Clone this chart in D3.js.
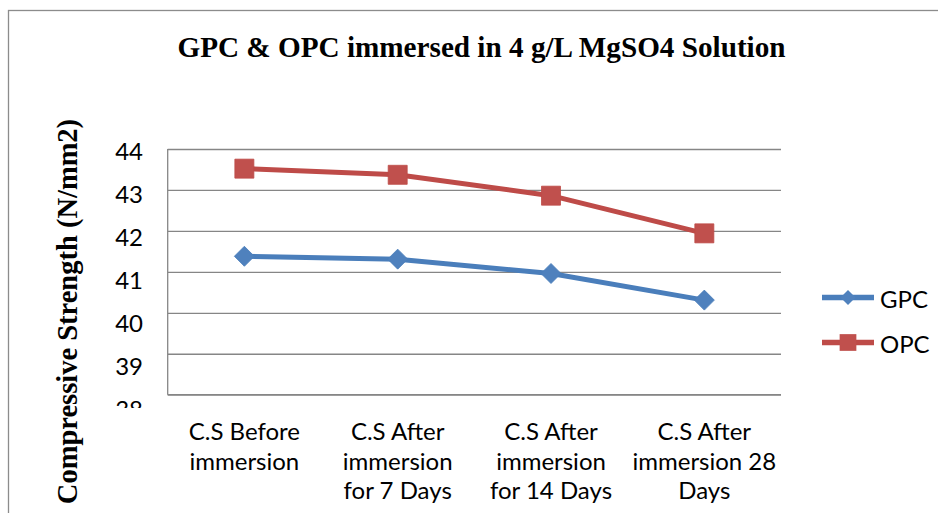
<!DOCTYPE html>
<html>
  <head>
   <meta charset="utf-8" />
   <title>GPC &amp; OPC</title>
   <style>
     body { margin: 0; background: white; }
     .title, .ylabel { font-family: "Liberation Serif", "Times New Roman", serif; font-weight: bold; }
     .tick-label, .cat, .legend text { font-family: Lato, "Liberation Sans", sans-serif; fill: #000; }
   </style>
  </head>
  <body>
<svg id="chart" width=938 height=513></svg>
  <script src="https://d3js.org/d3.v7.min.js"></script>
  <script>

    var categories = [
      "C.S Before\nimmersion",
      "C.S After\nimmersion\nfor 7 Days",
      "C.S After\nimmersion\nfor 14 Days",
      "C.S After\nimmersion 28\nDays"
    ];
    var gpcValues = [41.38, 41.31, 40.96, 40.31];
    var opcValues = [43.52, 43.37, 42.86, 41.94];
    var yTicks = [38, 39, 40, 41, 42, 43, 44];
    var seriesNames = ["GPC", "OPC"];

    var svg = d3.select("#chart");

    svg.append("rect")
      .attr("x", 8.5).attr("y", 10.5)
      .attr("width", 960).attr("height", 540)
      .attr("fill", "white")
      .attr("stroke", "#8c8c8c")
      .attr("stroke-width", 1.3);

    var plotLeft = 167.7, plotRight = 781, plotTop = 149, plotBottom = 394.7;

    var x = d3.scaleBand()
      .domain(categories)
      .range([plotLeft, plotRight]);

    var y = d3.scaleLinear()
      .domain([38, 44])
      .range([plotBottom, plotTop]);

    // tick labels sit on a slightly wider spacing than the gridlines
    var yLabel = d3.scaleLinear()
      .domain([39, 44])
      .range([366.3, 151.7]);

    // gridlines
    svg.append("g")
      .attr("transform", "translate(" + plotLeft + ",0)")
      .call(d3.axisLeft(y).tickValues(yTicks).tickSize(-(plotRight - plotLeft)).tickFormat(""))
      .call(function(g){
        g.select(".domain").remove();
        g.selectAll(".tick line").attr("stroke", "#868686").attr("stroke-width", 1.3);
      });

    // axis lines
    svg.append("line")
      .attr("x1", plotLeft).attr("x2", plotLeft)
      .attr("y1", plotTop).attr("y2", plotBottom)
      .attr("stroke", "#868686").attr("stroke-width", 1.3);
    svg.append("line")
      .attr("x1", plotLeft).attr("x2", plotRight)
      .attr("y1", plotBottom).attr("y2", plotBottom)
      .attr("stroke", "#868686").attr("stroke-width", 1.3);

    svg.append("clipPath").attr("id", "labelClip")
      .append("rect").attr("x", 0).attr("y", 0).attr("width", 160).attr("height", 408);

    svg.append("g")
      .attr("clip-path", "url(#labelClip)")
      .selectAll("text")
      .data(yTicks)
      .enter().append("text")
      .attr("class", "tick-label")
      .attr("x", 143)
      .attr("y", function(d){ return yLabel(d); })
      .attr("dy", "0.36em")
      .attr("text-anchor", "end")
      .attr("font-size", 24)
      .text(function(d){ return d; });

    // category labels
    var cats = svg.append("g").selectAll("text")
      .data(categories)
      .enter().append("text")
      .attr("class", "cat")
      .attr("text-anchor", "middle")
      .attr("font-size", 24)
      .attr("transform", function(d){
        return "translate(" + (x(d) + x.bandwidth() / 2) + ",440)";
      });
    cats.selectAll("tspan")
      .data(function(d){ return d.split("\n"); })
      .enter().append("tspan")
      .attr("x", 0)
      .attr("dy", function(d, i){ return i === 0 ? 0 : 29.5; })
      .text(function(d){ return d; });

    var colors = { GPC: "#4A7EBB", OPC: "#BE4B48" };
    var fills = { GPC: "#4F81BD", OPC: "#C0504D" };

    var line = d3.line()
      .x(function(d, i){ return x(categories[i]) + x.bandwidth() / 2; })
      .y(function(d){ return y(d); });

    var diamond = d3.symbol().type(d3.symbolSquare).size(200);
    var square = d3.symbol().type(d3.symbolSquare).size(361);

    [["GPC", gpcValues], ["OPC", opcValues]].forEach(function(s){
      var name = s[0], vals = s[1];
      svg.append("path")
        .attr("d", line(vals))
        .attr("fill", "none")
        .attr("stroke", colors[name])
        .attr("stroke-width", 5)
        .attr("stroke-linejoin", "round");

      svg.append("g").selectAll("path")
        .data(vals)
        .enter().append("path")
        .attr("d", name === "GPC" ? diamond : square)
        .attr("transform", function(d, i){
          var t = "translate(" + (x(categories[i]) + x.bandwidth() / 2) + "," + y(d) + ")";
          return name === "GPC" ? t + " rotate(45)" : t;
        })
        .attr("fill", fills[name])
        .attr("stroke", colors[name])
        .attr("stroke-width", 0.8);
    });

    // legend
    var legend = svg.append("g").attr("class", "legend");
    var legendY = { GPC: 297.5, OPC: 342.5 };
    seriesNames.forEach(function(name){
      var ly = legendY[name];
      legend.append("line")
        .attr("x1", 822).attr("x2", 874)
        .attr("y1", ly).attr("y2", ly)
        .attr("stroke", colors[name]).attr("stroke-width", 5.5);
      legend.append("path")
        .attr("d", name === "GPC" ? d3.symbol().type(d3.symbolSquare).size(112)() : d3.symbol().type(d3.symbolSquare).size(280)())
        .attr("transform", "translate(848," + ly + ")" + (name === "GPC" ? " rotate(45)" : ""))
        .attr("fill", fills[name]);
      legend.append("text")
        .attr("x", 880).attr("y", ly + 2)
        .attr("dy", "0.36em")
        .attr("font-size", 24)
        .text(name);
    });

    svg.append("text")
      .attr("class", "title")
      .attr("x", 481.5).attr("y", 57)
      .attr("text-anchor", "middle")
      .attr("font-size", 29.2)
      .text("GPC & OPC immersed in 4 g/L MgSO4 Solution");

    svg.append("text")
      .attr("class", "ylabel")
      .attr("transform", "translate(77,311.5) rotate(-90)")
      .attr("text-anchor", "middle")
      .attr("font-size", 28.5)
      .text("Compressive Strength (N/mm2)");

  </script>
  </body>
</html>
